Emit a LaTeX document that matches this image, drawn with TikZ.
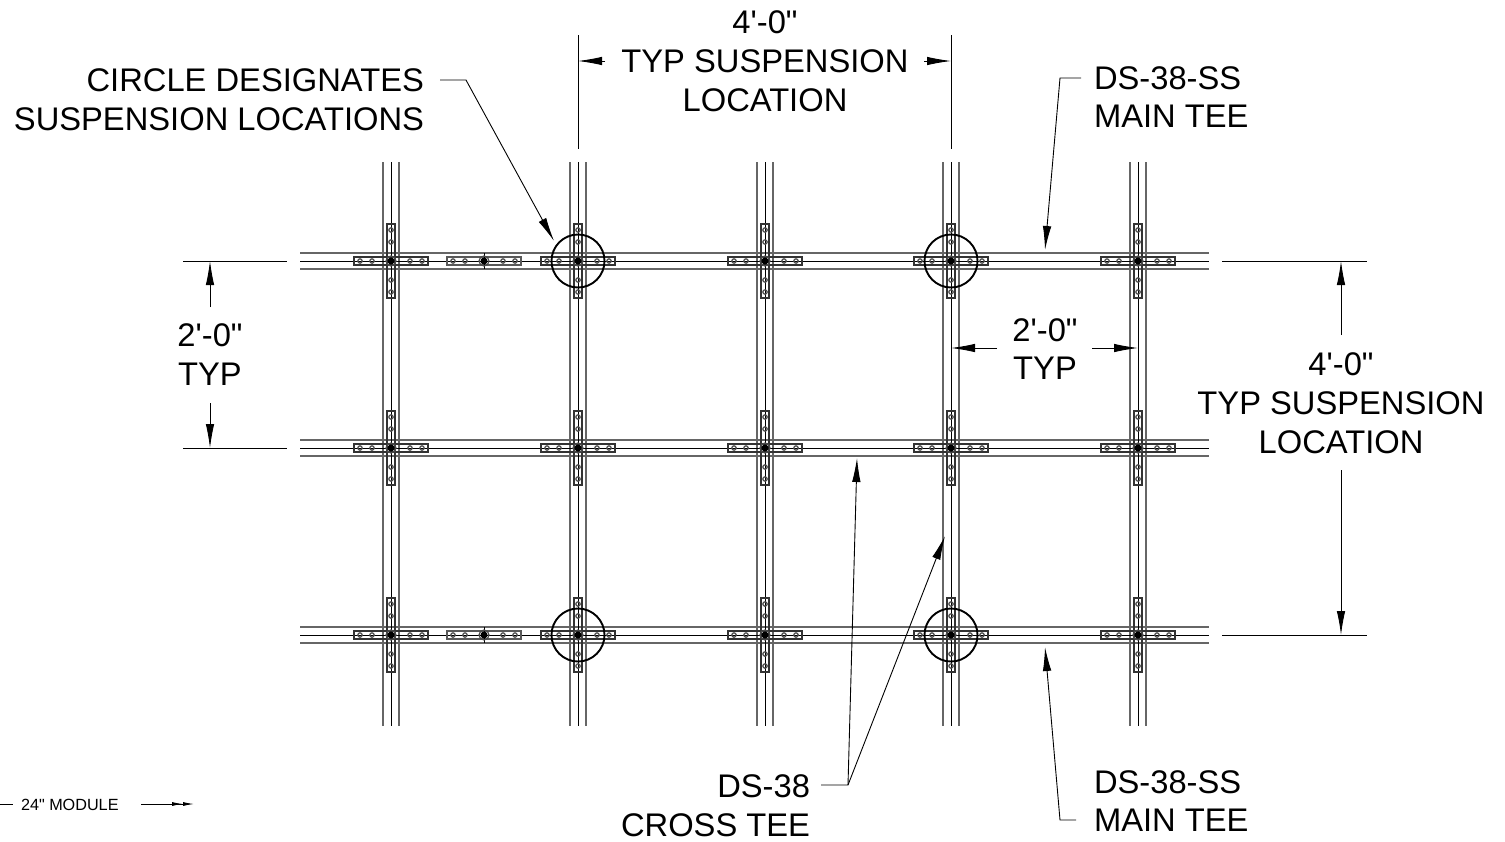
\documentclass[tikz,border=0pt]{standalone}
\usepackage{fontspec}
\newfontfamily\dwgfont{Liberation Sans}
\usetikzlibrary{arrows.meta}
\tikzset{
  railline/.style={draw=black!60,line width=1.3pt},
  midline/.style={draw=black,line width=0.9pt},
  dimline/.style={draw=black,line width=0.9pt},
  plate/.style={draw=black!80,line width=2pt,minimum width=74pt,minimum height=8pt},
  vplate/.style={plate,minimum width=8pt,minimum height=74pt},
  thinplate/.style={plate,draw=black!65,line width=1.4pt},
  hole/.style={draw=black!70,line width=1.2pt},
  dimtip/.style={-{Latex[length=24pt,width=8.5pt]}},
  ringmark/.style={draw=black,line width=1.9pt,circle,minimum size=53pt},
}
\begin{document}
\begin{tikzpicture}
    [x=1pt,y=-1pt,every node/.style={inner sep=0pt,outer sep=0pt},
     lbl/.style={font=\dwgfont\fontsize{32.7}{33}\selectfont}]
      \useasboundingbox (0,0) rectangle (1505,841);

      % tee rails
      \foreach \x in {391,578,765,951,1138}{
        \foreach \d in {-8,8}
          \draw[railline] (\x+\d,162) -- (\x+\d,726);
      }
      \foreach \y in {261,448,635}{
        \foreach \d in {-8,8}
          \draw[railline] (300,\y+\d) -- (1209,\y+\d);
      }
      % clear the crossings
      \foreach \x in {391,578,765,951,1138}
        \foreach \y in {261,448,635}
          \fill[white] (\x-7.4,\y-7.4) rectangle (\x+7.4,\y+7.4);
      \foreach \x in {391,578,765,951,1138}
        \draw[midline] (\x,162) -- (\x,726);
      \foreach \y in {261,448,635}
        \draw[midline] (300,\y) -- (1209,\y);

      % plates at the crossings
      \foreach \x in {391,578,765,951,1138}
        \foreach \y in {261,448,635}{
          \node (ph\x-\y)[plate]  at (\x,\y) {};
          \node (pv\x-\y)[vplate] at (\x,\y) {};
          \foreach \d in {-31,-19,19,31}{
            \draw[hole] (\x+\d,\y) circle (2.2pt);
            \draw[hole] (\x,\y+\d) circle (2.2pt);
          }
          \fill (\x,\y) circle (3.5pt);
          \draw[hole] (\x,\y) circle (5pt);
        }

      % splice plates
      \foreach \y in {261,635}{
        \node (ps\y)[thinplate] at (484,\y) {};
        \foreach \d in {-31,-19,19,31}
          \draw[hole] (484+\d,\y) circle (2.2pt);
        \draw[midline] (484,\y-8) -- (484,\y+8);
        \fill (484,\y) circle (3.5pt);
        \draw[hole] (484,\y) circle (5pt);
      }

      % suspension circles
      \node (r1)[ringmark] at (578,261) {};
      \node (r2)[ringmark] at (951,261) {};
      \node (r3)[ringmark] at (578,635) {};
      \node (r4)[ringmark] at (951,635) {};

      % labels
      \node (w1)[lbl] at (765,22)  {4'-0"};
      \node (w2)[lbl] at (765,61)  {TYP SUSPENSION};
      \node (w3)[lbl] at (765,100) {LOCATION};
      \node (c1)[lbl,anchor=east] at (424,80)  {CIRCLE DESIGNATES};
      \node (c2)[lbl,anchor=east] at (424,119) {SUSPENSION LOCATIONS};
      \node (m1)[lbl,anchor=west] at (1094,78)  {DS-38-SS};
      \node (m2)[lbl,anchor=west] at (1094,116) {MAIN TEE};
      \node (l1)[lbl] at (210,335) {2'-0"};
      \node (l2)[lbl] at (210,374) {TYP};
      \node (i1)[lbl] at (1045,330) {2'-0"};
      \node (i2)[lbl] at (1045,368) {TYP};
      \node (h1)[lbl] at (1341,364) {4'-0"};
      \node (h2)[lbl] at (1341,403) {TYP SUSPENSION};
      \node (h3)[lbl] at (1341,442) {LOCATION};
      \node (d1)[lbl,anchor=east] at (810,786) {DS-38};
      \node (d2)[lbl,anchor=east] at (810,825) {CROSS TEE};
      \node (b1)[lbl,anchor=west] at (1094,782) {DS-38-SS};
      \node (b2)[lbl,anchor=west] at (1094,820) {MAIN TEE};
      \node (mod)[font=\dwgfont\fontsize{16.2}{17}\selectfont,anchor=west] at (21,805) {24" MODULE};

      % extension lines
      \foreach \name/\xa/\ya/\xb/\yb in {ea/578/35/578/149,eb/951/35/951/149,ec/183/261/287/261,
          ed/183/448/287/448,ee/1222/261/1367/261,ef/1222/635/1367/635}{
        \coordinate (\name a) at (\xa,\ya);
        \coordinate (\name b) at (\xb,\yb);
        \draw[dimline] (\name a) -- (\name b);
      }

      % dimension arrows
      \foreach \name/\xa/\ya/\xb/\yb in {fa/605/61/578/61,fb/924/61/951/61,fc/210/307/210/261,
          fd/210/403/210/448,fe/997/348/951/348,ff/1092/348/1138/348,
          fg/1341/335/1341/261,fh/1341/470/1341/635}{
        \coordinate (\name a) at (\xa,\ya);
        \coordinate (\name b) at (\xb,\yb);
        \draw[dimline,dimtip] (\name a) -- (\name b);
      }

      % leaders
      \coordinate (t1) at (440,80);
      \coordinate (k1) at (466,80);
      \coordinate (t2) at (1081,78);
      \coordinate (k2) at (1060,78);
      \coordinate (a2) at (1045,250);
      \coordinate (t3) at (1076,820);
      \coordinate (k3) at (1060,820);
      \coordinate (a3) at (1045,647);
      \coordinate (t4) at (821,785);
      \coordinate (k4) at (848,785);
      \coordinate (a4) at (857,458);
      \coordinate (a5) at (945,536);
      \coordinate (a1) at (554,241);
      \draw[dimline,dimtip] (t1) -- (k1) -- (a1);
      \draw[dimline,dimtip] (t2) -- (k2) -- (a2);
      \draw[dimline,dimtip] (t3) -- (k3) -- (a3);
      \draw[dimline,dimtip] (t4) -- (k4) -- (a4);
      \draw[dimline,dimtip] (k4) -- (a5);

      % module arrow
      \coordinate (q1) at (0,804);
      \coordinate (q2) at (13,804);
      \coordinate (q3) at (141,804);
      \coordinate (q4) at (194,804);
      \draw[dimline] (q1) -- (q2);
      \draw[dimline,-{Latex[length=11pt,width=4pt]Latex[length=11pt,width=4pt]}] (q3) -- (q4);
    \end{tikzpicture}
\end{document}
